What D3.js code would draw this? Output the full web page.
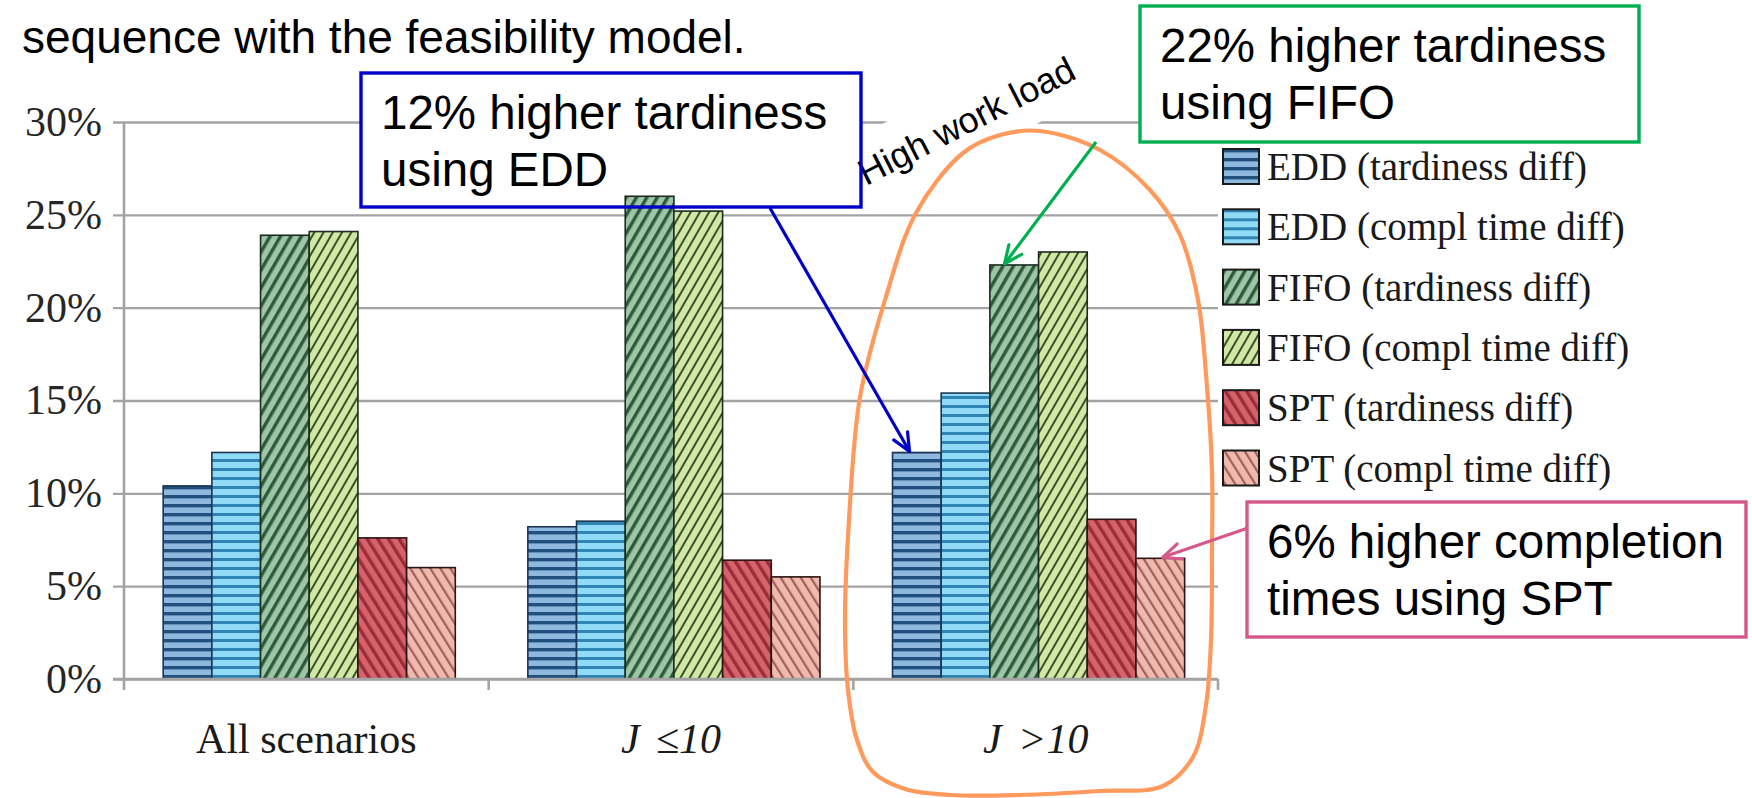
<!DOCTYPE html>
<html>
<head>
<meta charset="utf-8">
<script src="https://cdn.jsdelivr.net/npm/d3@7"></script>
<style>
  html, body { margin: 0; padding: 0; background: #ffffff; }
  svg { display: block; }
</style>
</head>
<body>
<svg id="chart" width="1752" height="798"></svg>
<script>
// ---- data -------------------------------------------------------------
const categories = ["All scenarios", "J \u226410", "J >10"];
const seriesKeys = ["eddTard", "eddCompl", "fifoTard", "fifoCompl", "sptTard", "sptCompl"];
const seriesLabels = [
  "EDD (tardiness diff)", "EDD (compl time diff)",
  "FIFO (tardiness diff)", "FIFO (compl time diff)",
  "SPT (tardiness diff)", "SPT (compl time diff)"
];
// percentage differences per scenario group
const eddTardiness  = [10.4, 8.2, 12.2];
const eddCompl      = [12.2, 8.5, 15.4];
const fifoTardiness = [23.9, 26.0, 22.3];
const fifoCompl     = [24.1, 25.2, 23.0];
const sptTardiness  = [7.6, 6.4, 8.6];
const sptCompl      = [6.0, 5.5, 6.5];
const yTickValues = [0, 5, 10, 15, 20, 25, 30];

const headline = "sequence with the feasibility model.";
const noteEdd  = ["12% higher tardiness", "using EDD"];
const noteFifo = ["22% higher tardiness", "using FIFO"];
const noteSpt  = ["6% higher completion", "times using SPT"];
const workloadLabel = "High work load";

// ---- setup --------------------------------------------------------------
const seriesValues = [eddTardiness, eddCompl, fifoTardiness, fifoCompl, sptTardiness, sptCompl];
const rows = categories.map((c, i) => ({
  category: c,
  values: seriesKeys.map((k, j) => ({ key: k, value: seriesValues[j][i] }))
}));

const svg = d3.select("#chart");
const axisLeftX = 124, gridStart = 113, plotRight = 1218;
const serif = "'Liberation Serif', 'Times New Roman', serif";
const sans = "'Liberation Sans', Arial, sans-serif";
const gridColor = "#a3a3a3";

const x = d3.scaleBand().domain(categories).range([axisLeftX, plotRight]);
const xs = d3.scaleBand().domain(seriesKeys).range([0, x.bandwidth()])
  .paddingInner(0).paddingOuter(0.745).align(0.54);
const y = d3.scaleLinear().domain([0, 30]).range([679, 122]);

// ---- fill patterns --------------------------------------------------------
const styles = {
  eddTard:   { base: "#8fb8df", stripe: "#21507d", kind: "h", size: 9,   w: 3.4, outline: "#1c3550" },
  eddCompl:  { base: "#90daf5", stripe: "#2f84b3", kind: "h", size: 9,   w: 3.0, outline: "#1c3550" },
  fifoTard:  { base: "#9dc5a6", stripe: "#2d5a3b", kind: "d", size: 9,   w: 3.4, angle: 30, outline: "#1d2b20" },
  fifoCompl: { base: "#d1e8a5", stripe: "#3a4f2c", kind: "d", size: 8,   w: 2.0, angle: 30, outline: "#1d2b20" },
  sptTard:   { base: "#d6626b", stripe: "#9a2e38", kind: "d", size: 9,   w: 3.4, angle: -32, outline: "#2b1414" },
  sptCompl:  { base: "#efb9ae", stripe: "#a0605a", kind: "d", size: 8.5, w: 2.2, angle: -32, outline: "#2b1414" }
};
const defs = svg.append("defs");
seriesKeys.forEach(k => {
  const s = styles[k];
  const p = defs.append("pattern").attr("id", "pat-" + k)
    .attr("patternUnits", "userSpaceOnUse");
  if (s.kind === "h") {
    p.attr("width", 12).attr("height", s.size);
    p.append("rect").attr("width", 12).attr("height", s.size).attr("fill", s.base);
    p.append("rect").attr("width", 12).attr("height", s.w).attr("fill", s.stripe);
  } else {
    p.attr("width", s.size).attr("height", s.size)
      .attr("patternTransform", `rotate(${s.angle})`);
    p.append("rect").attr("width", s.size).attr("height", s.size).attr("fill", s.base);
    p.append("rect").attr("width", s.w).attr("height", s.size).attr("fill", s.stripe);
  }
});

const arrowColors = { blue: "#0000c8", green: "#00b050", pink: "#d6588a" };
Object.entries(arrowColors).forEach(([name, col]) => {
  defs.append("marker").attr("id", "arrow-" + name)
    .attr("viewBox", "0 0 22 22").attr("refX", 20).attr("refY", 11)
    .attr("markerWidth", 22).attr("markerHeight", 22)
    .attr("markerUnits", "userSpaceOnUse").attr("orient", "auto")
    .append("path").attr("d", "M2,3 L20,11 L2,19")
    .attr("fill", "none").attr("stroke", col).attr("stroke-width", 3.2)
    .attr("stroke-linecap", "round").attr("stroke-linejoin", "round");
});

// ---- gridlines and y tick labels ----------------------------------------
const yAxisG = svg.append("g")
  .attr("transform", `translate(${gridStart},0)`)
  .call(d3.axisLeft(y).tickValues(yTickValues)
    .tickSize(-(plotRight - gridStart)).tickPadding(11)
    .tickFormat(d => d + "%"));
yAxisG.select(".domain").remove();
yAxisG.selectAll(".tick line").attr("stroke", gridColor).attr("stroke-width", 2.4);
yAxisG.selectAll(".tick text")
  .attr("font-family", serif).attr("font-size", 42).attr("fill", "#262626");

// ---- white backings of the annotation boxes ------------------------------
const boxes = [
  { x0: 361, y0: 73, x1: 861, y1: 207, color: arrowColors.blue, lines: noteEdd },
  { x0: 1140, y0: 6, x1: 1639, y1: 142, color: arrowColors.green, lines: noteFifo },
  { x0: 1247, y0: 502, x1: 1746, y1: 637, color: arrowColors.pink, lines: noteSpt }
];
svg.append("g").selectAll("rect").data(boxes).join("rect")
  .attr("x", d => d.x0).attr("y", d => d.y0)
  .attr("width", d => d.x1 - d.x0).attr("height", d => d.y1 - d.y0)
  .attr("fill", "#ffffff");

const workG = svg.append("g").attr("transform", "translate(866,186) rotate(-27)");
workG.append("rect").attr("x", -18).attr("y", -48).attr("width", 318).attr("height", 70)
  .attr("fill", "#ffffff");

// ---- bars -------------------------------------------------------------------
const groups = svg.append("g").selectAll("g").data(rows).join("g")
  .attr("transform", d => `translate(${x(d.category)},0)`);
groups.selectAll("rect").data(d => d.values).join("rect")
  .attr("x", d => xs(d.key)).attr("width", xs.bandwidth())
  .attr("y", d => y(d.value)).attr("height", d => y(0) - y(d.value))
  .attr("fill", d => `url(#pat-${d.key})`)
  .attr("stroke", d => styles[d.key].outline).attr("stroke-width", 1.6);

// ---- axis lines --------------------------------------------------------------
const axisG = svg.append("g").attr("stroke", gridColor).attr("stroke-width", 2.6);
axisG.append("line").attr("x1", axisLeftX).attr("x2", axisLeftX)
  .attr("y1", y(30)).attr("y2", y(0) + 11);
axisG.append("line").attr("x1", gridStart).attr("x2", plotRight)
  .attr("y1", y(0)).attr("y2", y(0));
axisG.selectAll("line.sep").data(categories).join("line").attr("class", "sep")
  .attr("x1", d => x(d) + x.bandwidth()).attr("x2", d => x(d) + x.bandwidth())
  .attr("y1", y(0)).attr("y2", y(0) + 11);

svg.append("g").selectAll("text").data(categories).join("text")
  .attr("x", d => x(d) + x.bandwidth() / 2).attr("y", 753)
  .attr("text-anchor", "middle")
  .attr("font-family", serif).attr("font-size", 42).attr("fill", "#1a1a1a")
  .attr("font-style", (d, i) => i === 0 ? "normal" : "italic")
  .attr("word-spacing", (d, i) => i === 0 ? 0 : 6)
  .text(d => d);

// ---- legend ----------------------------------------------------------------
const legend = svg.append("g").attr("transform", "translate(1223,149)");
const li = legend.selectAll("g").data(seriesKeys).join("g")
  .attr("transform", (d, i) => `translate(0,${i * 60.3})`);
li.append("rect").attr("width", 36).attr("height", 35)
  .attr("fill", d => `url(#pat-${d})`).attr("stroke", "#1a1a1a").attr("stroke-width", 2);
li.append("text").attr("x", 44).attr("y", 31)
  .attr("font-family", serif).attr("font-size", 39).attr("fill", "#1a1a1a")
  .text((d, i) => seriesLabels[i]);

// ---- high work load outline ---------------------------------------------------
const outline = [
  [1040, 131], [1100, 150], [1150, 190], [1180, 235], [1198, 300], [1207, 387],
  [1212, 470], [1212, 553], [1211, 640], [1206, 705], [1193, 757], [1163, 786],
  [1100, 791], [1020, 795], [950, 795], [905, 789], [873, 772], [857, 740],
  [848, 690], [845, 620], [849, 520], [860, 397], [885, 300], [916, 213],
  [963, 153], [1000, 135]
];
svg.append("path")
  .attr("d", d3.line().curve(d3.curveCatmullRomClosed.alpha(0.5))(outline))
  .attr("fill", "none").attr("stroke", "#ff9a5c").attr("stroke-width", 4.2);

workG.append("text").attr("x", 0).attr("y", 0)
  .attr("font-family", sans).attr("font-size", 36).attr("fill", "#000")
  .text(workloadLabel);

// ---- headline and annotation boxes ------------------------------------------------
svg.append("text").attr("x", 22).attr("y", 53)
  .attr("font-family", sans).attr("font-size", 46).attr("fill", "#000")
  .text(headline);

const boxG = svg.append("g").selectAll("g").data(boxes).join("g");
boxG.append("rect")
  .attr("x", d => d.x0).attr("y", d => d.y0)
  .attr("width", d => d.x1 - d.x0).attr("height", d => d.y1 - d.y0)
  .attr("fill", "none").attr("stroke", d => d.color).attr("stroke-width", 3.4);
boxG.each(function (d) {
  d3.select(this).selectAll("text").data(d.lines).join("text")
    .attr("x", d.x0 + 20).attr("y", (t, i) => d.y0 + 56 + i * 57)
    .attr("font-family", sans).attr("font-size", 47.5).attr("fill", "#000")
    .text(t => t);
});

// ---- arrows pointing at the bars -------------------------------------------------
const last = categories[2];
const barX = (key, frac) => x(last) + xs(key) + xs.bandwidth() * frac;
const arrows = [
  { name: "blue",  from: [770, 208],  to: [barX("eddTard", 0.35), y(eddTardiness[2]) - 1] },
  { name: "green", from: [1096, 142], to: [barX("fifoTard", 0.3), y(fifoTardiness[2]) - 1] },
  { name: "pink",  from: [1248, 528], to: [barX("sptCompl", 0.55), y(sptCompl[2]) - 1] }
];
svg.append("g").selectAll("line").data(arrows).join("line")
  .attr("x1", d => d.from[0]).attr("y1", d => d.from[1])
  .attr("x2", d => d.to[0]).attr("y2", d => d.to[1])
  .attr("stroke", d => arrowColors[d.name]).attr("stroke-width", 3.2)
  .attr("marker-end", d => `url(#arrow-${d.name})`);
</script>
</body>
</html>
